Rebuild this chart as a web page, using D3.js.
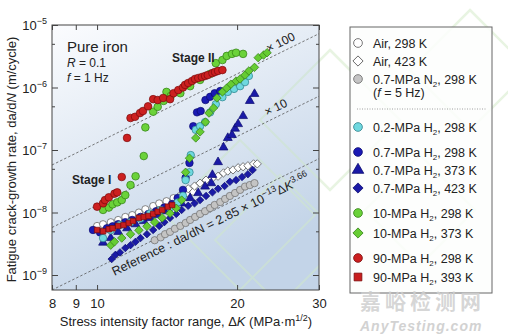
<!DOCTYPE html>
<html><head><meta charset="utf-8">
<script src="https://cdn.jsdelivr.net/npm/d3@7"></script>
<style>body{margin:0;background:#fff}svg{font-family:Arial,"Liberation Sans",sans-serif}</style>
</head><body><svg id="c" width="508" height="334"></svg>
<script>
const xTicks=[8,9,10,20,30];
const yTicks=[1e-9,1e-8,1e-7,1e-6,1e-5];
const yTickExp=["−9","−8","−7","−6","−5"];
const yMinor=[5e-9,5e-8,5e-7,5e-6];
const refCoef=2.85e-13, refExp=3.66, refMult=[1,10,100];

const airRT=[[10.0,6.1e-9],[10.3,6.5e-9],[10.7,7.0e-9],[11.1,7.6e-9],[11.5,8.5e-9],[11.9,9.1e-9],[12.3,1.0e-8],[12.7,1.13e-8],[13.2,1.27e-8],[13.6,1.4e-8],[14.1,1.52e-8],[14.6,1.7e-8],[15.1,1.84e-8],[15.6,2.05e-8],[16.1,2.15e-8]];
const air423=[[15.7,2.4e-8],[16.2,2.65e-8],[16.65,2.95e-8],[17.15,3.3e-8],[17.7,3.55e-8],[18.2,3.8e-8],[18.7,4.3e-8],[19.1,4.6e-8],[19.6,4.8e-8],[20.1,5.2e-8],[20.6,5.4e-8],[21.1,5.6e-8],[21.7,6.0e-8],[22.1,6.0e-8]];
const n2=[[13.3,3.6e-9],[13.7,4.0e-9],[14.0,4.5e-9],[14.35,4.9e-9],[14.7,5.5e-9],[15.1,6.1e-9],[15.5,6.8e-9],[15.85,7.6e-9],[16.25,8.5e-9],[16.65,9.5e-9],[17.07,1.05e-8],[17.5,1.18e-8],[17.9,1.32e-8],[18.4,1.47e-8],[18.85,1.65e-8],[19.3,1.84e-8],[19.8,2.05e-8],[20.3,2.3e-8],[20.8,2.6e-8],[21.3,2.75e-8],[21.8,2.95e-8]];
const h02RT=[[10.3,3.9e-9],[10.7,5.2e-9],[11.2,6.3e-9],[11.8,7e-9],[12.4,8e-9],[13.0,9.6e-9],[13.7,1.1e-8],[14.35,1.2e-8],[14.9,1.45e-8],[15.3,1.85e-8],[15.5,3.3e-8],[15.8,4.4e-8],[15.9,8.3e-8],[16.3,2.1e-7],[16.65,2.4e-7],[17.07,2.8e-7],[17.5,4.0e-7],[18.0,5.4e-7],[18.6,7.0e-7],[19.1,8.5e-7],[19.7,9.5e-7],[20.3,1.05e-6],[20.8,1.22e-6],[21.2,1.53e-6]];
const h07RT=[[9.8,5.25e-9],[10.15,4.8e-9],[10.5,5.6e-9],[10.8,6.0e-9],[11.1,6.5e-9],[11.5,7e-9],[11.9,7.6e-9],[12.4,8.5e-9],[12.9,9.5e-9],[13.4,1.05e-8],[13.95,1.2e-8],[14.5,1.37e-8],[14.9,1.7e-8],[15.3,2.3e-8],[15.5,3.6e-8],[15.8,6.2e-8],[16.1,2.4e-7],[16.4,4.0e-7],[16.7,4.2e-7],[17.1,6.3e-7],[17.5,7.1e-7],[17.9,8.1e-7],[18.4,8.8e-7]];
const h07_373=[[10.3,3.3e-9],[10.7,3.9e-9],[11.1,4.9e-9],[11.6,5.6e-9],[12.1,6.5e-9],[12.6,7.3e-9],[13.0,8.2e-9],[13.5,9.1e-9],[14.1,1.05e-8],[14.6,1.23e-8],[15.2,1.4e-8],[15.85,1.7e-8],[16.5,2.05e-8],[17.07,2.6e-8],[17.6,2.95e-8],[17.7,4.0e-8],[18.2,6.4e-8],[18.7,1.1e-7],[19.1,1.56e-7],[19.5,1.74e-7],[19.8,2.2e-7],[20.1,2.6e-7],[20.6,3.5e-7],[21.3,6.1e-7],[21.8,7.9e-7]];
const h07_423=[[10.75,1.8e-9],[10.95,2.1e-9],[11.2,2.3e-9],[11.5,2.7e-9],[11.8,3.0e-9],[12.1,3.4e-9],[12.4,3.9e-9],[12.8,4.5e-9],[13.2,5.25e-9],[13.6,6.1e-9],[13.95,7e-9],[14.35,8.2e-9],[14.8,9.5e-9],[15.2,1.1e-8],[15.7,1.28e-8],[16.2,1.4e-8],[16.65,1.58e-8],[17.15,1.84e-8],[17.7,2.1e-8],[18.2,2.4e-8],[18.8,2.65e-8],[19.3,3.1e-8],[19.9,3.3e-8],[20.5,3.7e-8],[21.1,4.1e-8],[21.6,4.8e-8]];
const h10RT=[[10.3,1.1e-8],[10.6,1.2e-8],[10.8,1.35e-8],[11.05,1.45e-8],[11.3,1.58e-8],[11.5,1.9e-8],[11.8,2.75e-8],[12.1,3.8e-8],[12.6,8.0e-8],[12.7,2.3e-7],[13.2,4.1e-7],[13.5,4.9e-7],[13.9,6.1e-7],[14.1,8.5e-7],[14.4,7.3e-7],[15.1,8.1e-7],[15.85,1.05e-6],[16.65,1.32e-6],[17.5,1.65e-6],[18.0,2.45e-6],[18.6,2.75e-6],[19.0,3.2e-6],[19.5,3.45e-6],[19.9,3.6e-6],[20.6,3.45e-6]];
const h10_373=[[10.7,3e-9],[10.9,3.4e-9],[11.3,3.9e-9],[11.8,4.5e-9],[12.3,5.2e-9],[12.8,6.0e-9],[13.3,7e-9],[13.8,8.2e-9],[14.35,9.7e-9],[14.8,1.17e-8],[15.2,1.58e-8],[15.5,4.4e-8],[15.8,7.4e-8],[16.3,1.56e-7],[16.65,1.95e-7],[17.1,2.8e-7],[17.4,3.9e-7],[17.8,4.7e-7],[18.1,6.8e-7],[18.6,8.5e-7],[19.0,9.8e-7],[19.4,1.13e-6],[19.9,1.27e-6],[20.3,1.37e-6],[20.8,1.58e-6],[21.2,1.84e-6],[21.8,2.1e-6],[22.2,3e-6],[22.8,3.3e-6],[23.2,3.6e-6]];
const h90RT=[[10.0,1.24e-8],[10.3,1.4e-8],[10.4,1.58e-8],[10.6,1.75e-8],[10.9,2.0e-8],[11.05,2.1e-8],[11.3,3.7e-8],[11.6,1.56e-7],[11.8,3.25e-7],[12.07,3.4e-7],[12.37,3.9e-7],[12.55,4.2e-7],[12.87,5.0e-7],[13.2,6.5e-7],[13.5,6.3e-7],[13.87,6.8e-7],[14.35,6.5e-7],[14.6,8.1e-7],[14.95,9.1e-7],[15.3,1.0e-6],[15.46,1.1e-6],[15.7,1.18e-6],[16.0,1.27e-6],[16.24,1.37e-6],[16.5,1.42e-6],[16.8,1.47e-6],[17.07,1.53e-6],[17.3,1.58e-6],[17.7,1.7e-6],[17.93,1.77e-6],[18.2,1.84e-6],[18.6,1.9e-6]];
const h90_393=[[10.0,5.25e-9],[10.3,5.0e-9],[10.6,5.4e-9],[10.8,5.6e-9],[11.1,6.1e-9],[11.4,6.3e-9],[11.7,6.8e-9],[11.95,7.3e-9],[12.3,8.2e-9],[12.6,8.5e-9],[12.9,8.8e-9],[13.2,9.5e-9],[13.5,1.03e-8],[13.8,1.1e-8],[14.2,1.24e-8],[14.5,1.32e-8]];

const series=[
 {name:"0.7-MPa N2, 298 K",data:n2,shape:"circle",fill:"#c4c4c4",stroke:"#6a6a6a",size:42},
 {name:"Air, 298 K",data:airRT,shape:"circle",fill:"#ffffff",stroke:"#555",size:40},
 {name:"Air, 423 K",data:air423,shape:"diamond",fill:"#ffffff",stroke:"#444",size:34},
 {name:"0.7-MPa H2, 423 K",data:h07_423,shape:"diamond",fill:"#1a1aa6",stroke:"#0c0c70",size:28},
 {name:"0.7-MPa H2, 373 K",data:h07_373,shape:"triangle",fill:"#1a1aa6",stroke:"#0c0c70",size:34},
 {name:"0.7-MPa H2, 298 K",data:h07RT,shape:"circle",fill:"#1a1ab4",stroke:"#0c0c70",size:44},
 {name:"0.2-MPa H2, 298 K",data:h02RT,shape:"circle",fill:"#6fd8df",stroke:"#2b7f8a",size:44},
 {name:"10-MPa H2, 373 K",data:h10_373,shape:"diamond",fill:"#66cc33",stroke:"#2f7d12",size:36},
 {name:"10-MPa H2, 298 K",data:h10RT,shape:"circle",fill:"#6bd23a",stroke:"#2f7d12",size:46},
 {name:"90-MPa H2, 393 K",data:h90_393,shape:"square",fill:"#c81e1e",stroke:"#7a0a0a",size:30},
 {name:"90-MPa H2, 298 K",data:h90RT,shape:"circle",fill:"#cc2020",stroke:"#7a0a0a",size:46}
];
const sqDiamond={draw(ctx,size){const r=Math.sqrt(size/2);ctx.moveTo(0,-r);ctx.lineTo(r,0);ctx.lineTo(0,r);ctx.lineTo(-r,0);ctx.closePath();}};
const symMap={circle:d3.symbolCircle,diamond:sqDiamond,triangle:d3.symbolTriangle,square:d3.symbolSquare};

const svg=d3.select("#c");
const L=52,R=319,T=25,B=290;
const x=d3.scaleLog().domain([8,30]).range([L,R]);
const y=d3.scaleLog().domain([Math.pow(10,-9.24),1e-5]).range([B,T]);

const defs=svg.append("defs");
const gr=defs.append("linearGradient").attr("id","bg").attr("x1","0").attr("y1","0").attr("x2","0.45").attr("y2","1");
gr.append("stop").attr("offset","0").attr("stop-color","#fbfcfe");
gr.append("stop").attr("offset","1").attr("stop-color","#c3d4e8");
defs.append("clipPath").attr("id","clip").append("rect").attr("x",L).attr("y",T).attr("width",R-L).attr("height",B-T);

// faint watermark diamonds on page
const wm=svg.append("g").attr("fill","none").attr("stroke","#e8f4e2").attr("stroke-width",2.5);
[[330,120,70],[470,70,60],[240,215,75],[420,210,55]].forEach(([cx,cy,r])=>{
  wm.append("path").attr("d",`M${cx},${cy-r}L${cx+r},${cy}L${cx},${cy+r}L${cx-r},${cy}Z`);
});

svg.append("rect").attr("x",L).attr("y",T).attr("width",R-L).attr("height",B-T).attr("fill","url(#bg)");
const wm2=svg.append("g").attr("clip-path","url(#clip)").attr("fill","none").attr("stroke","#cfe6cf").attr("stroke-width",2).attr("opacity",0.6);
[[280,240,65],[330,120,70],[240,215,75]].forEach(([cx,cy,r])=>{
  wm2.append("path").attr("d",`M${cx},${cy-r}L${cx+r},${cy}L${cx},${cy+r}L${cx-r},${cy}Z`);
});

// reference lines
const plot=svg.append("g").attr("clip-path","url(#clip)");
const kLine=[8,30];
refMult.forEach(m=>{
  plot.append("path").datum(kLine)
    .attr("d",d3.line().x(k=>x(k)).y(k=>y(m*refCoef*Math.pow(k,refExp))))
    .attr("fill","none").attr("stroke","#555").attr("stroke-width",0.8).attr("stroke-dasharray","2.5,2");
});
const ang=Math.atan2(y(refCoef*Math.pow(30,refExp))-y(refCoef*Math.pow(8,refExp)),x(30)-x(8))*180/Math.PI;

// points
series.forEach(s=>{
  plot.append("g").selectAll("path").data(s.data).join("path")
    .attr("transform",d=>`translate(${x(d[0])},${y(d[1])})`)
    .attr("d",d3.symbol().type(symMap[s.shape]).size(s.size))
    .attr("fill",s.fill).attr("stroke",s.stroke).attr("stroke-width",0.7);
});

// axes
svg.append("rect").attr("x",L).attr("y",T).attr("width",R-L).attr("height",B-T).attr("fill","none").attr("stroke","#444").attr("stroke-width",1);
const ax=(g,axis)=>{g.call(axis);g.select(".domain").remove();g.selectAll("line").attr("stroke","#444");};
svg.append("g").attr("transform",`translate(0,${B})`).call(g=>ax(g,d3.axisBottom(x).tickValues(xTicks).tickSize(-5).tickPadding(9).tickFormat(d3.format("d"))))
  .selectAll("text").attr("font-size",13).attr("fill","#222").attr("font-family","Arial,'Liberation Sans',sans-serif");
svg.append("g").attr("transform",`translate(0,${T})`).call(g=>ax(g,d3.axisTop(x).tickValues(xTicks).tickSize(-5).tickFormat("")));
svg.append("g").attr("transform",`translate(${L},0)`).call(g=>ax(g,d3.axisLeft(y).tickValues(yTicks).tickSize(-6).tickFormat("")));
svg.append("g").attr("transform",`translate(${L},0)`).call(g=>ax(g,d3.axisLeft(y).tickValues(yMinor).tickSize(-3).tickFormat("")));
svg.append("g").attr("transform",`translate(${R},0)`).call(g=>ax(g,d3.axisRight(y).tickValues(yTicks).tickSize(-6).tickFormat("")));
svg.append("g").attr("transform",`translate(${R},0)`).call(g=>ax(g,d3.axisRight(y).tickValues(yMinor).tickSize(-3).tickFormat("")));
yTicks.forEach((v,i)=>{
  const t=svg.append("text").attr("x",L-5).attr("y",y(v)+5).attr("text-anchor","end").attr("font-size",13).attr("fill","#222");
  t.append("tspan").text("10");
  t.append("tspan").attr("dy",-6).attr("font-size",9).text(yTickExp[i]);
});

// axis titles
const xt=svg.append("text").attr("x",186).attr("y",326).attr("text-anchor","middle").attr("font-size",13).attr("fill","#222");
xt.append("tspan").text("Stress intensity factor range, Δ");
xt.append("tspan").attr("font-style","italic").text("K");
xt.append("tspan").text(" (MPa·m");
xt.append("tspan").attr("dy",-5).attr("font-size",9).text("1/2");
xt.append("tspan").attr("dy",5).text(")");
const yt=svg.append("text").attr("transform",`translate(16,${(T+B)/2+2}) rotate(-90)`).attr("text-anchor","middle").attr("font-size",13).attr("fill","#222");
yt.append("tspan").text("Fatigue crack-growth rate, da/d");
yt.append("tspan").attr("font-style","italic").text("N");
yt.append("tspan").text(" (m/cycle)");

// annotations
svg.append("text").attr("x",67).attr("y",52).attr("font-size",15).attr("fill","#222").text("Pure iron");
const rT=svg.append("text").attr("x",67).attr("y",67).attr("font-size",12).attr("fill","#222");
rT.append("tspan").attr("font-style","italic").text("R");rT.append("tspan").text(" = 0.1");
const fT=svg.append("text").attr("x",67).attr("y",82).attr("font-size",12).attr("fill","#222");
fT.append("tspan").attr("font-style","italic").text("f");fT.append("tspan").text(" = 1 Hz");
svg.append("text").attr("x",172).attr("y",62).attr("font-size",12).attr("font-weight","bold").attr("fill","#222").text("Stage II");
svg.append("text").attr("x",72).attr("y",184).attr("font-size",12).attr("font-weight","bold").attr("fill","#222").text("Stage I");

function onLine(k,m){return [x(k),y(m*refCoef*Math.pow(k,refExp))];}
let p=onLine(25.3,100);
svg.append("text").attr("transform",`translate(${p[0]},${p[1]}) rotate(${ang}) translate(0,-5)`).attr("text-anchor","middle").attr("font-size",12).attr("fill","#222").text("× 100");
p=onLine(24.7,10);
svg.append("text").attr("transform",`translate(${p[0]},${p[1]}) rotate(${ang}) translate(0,-5)`).attr("text-anchor","middle").attr("font-size",12).attr("fill","#222").text("× 10");
p=onLine(10.55,1);
const rf=svg.append("text").attr("transform",`translate(${p[0]},${p[1]}) rotate(${ang}) translate(0,15)`).attr("font-size",12.5).attr("fill","#222");
rf.append("tspan").text("Reference : da/dN = 2.85 × 10");
rf.append("tspan").attr("dy",-5).attr("font-size",9).text("−13");
rf.append("tspan").attr("dy",5).text("Δ");
rf.append("tspan").attr("font-style","italic").text("K");
rf.append("tspan").attr("dy",-5).attr("font-size",9).text("3.66");

// legend
const lg=svg.append("g");
lg.append("rect").attr("x",350).attr("y",27).attr("width",142).attr("height",266).attr("fill","#fdfefd").attr("fill-opacity",0.85).attr("stroke","#666").attr("stroke-width",1);
const legendRows=[
 ["Air, 298 K",43,1],["Air, 423 K",61,2],["0.7-MPa N2, 298 K",79,0],
 ["0.2-MPa H2, 298 K",127,6],["0.7-MPa H2, 298 K",152,5],["0.7-MPa H2, 373 K",170,4],["0.7-MPa H2, 423 K",188,3],
 ["10-MPa H2, 298 K",213,8],["10-MPa H2, 373 K",233,7],["90-MPa H2, 298 K",258,10],["90-MPa H2, 393 K",277,9]
];
legendRows.forEach(([lab,yy,si])=>{
  const s=series[si];
  lg.append("path").attr("transform",`translate(358,${yy})`).attr("d",d3.symbol().type(symMap[s.shape]).size(s.shape==="triangle"?58:s.shape==="diamond"?52:60))
    .attr("fill",s.fill).attr("stroke",s.stroke).attr("stroke-width",0.8);
  const t=lg.append("text").attr("x",373).attr("y",yy+4.5).attr("font-size",12.5).attr("fill","#222");
  const m=lab.match(/^(.*?[NH])2(.*)$/);
  if(m){
    t.append("tspan").text(m[1]);
    t.append("tspan").attr("dy",3).attr("font-size",8).text("2");
    t.append("tspan").attr("dy",-3).text(m[2]);
  } else {
    t.append("tspan").text(lab);
  }
});
const f5=lg.append("text").attr("x",373).attr("y",97).attr("font-size",12.5).attr("fill","#222");
f5.append("tspan").text("(");f5.append("tspan").attr("font-style","italic").text("f");f5.append("tspan").text(" = 5 Hz)");
lg.append("line").attr("x1",357).attr("x2",486).attr("y1",109).attr("y2",109).attr("stroke","#888").attr("stroke-width",0.8).attr("stroke-dasharray","1,1.5");

// site watermark
svg.append("text").attr("x",360).attr("y",309).attr("font-family","'Noto Sans CJK SC'").attr("font-size",21).attr("font-weight","bold").attr("fill","#cfcfcf").attr("fill-opacity",0.85).attr("letter-spacing",4).text("嘉峪检测网");
svg.append("text").attr("x",360).attr("y",331).attr("font-size",14).attr("font-style","italic").attr("font-weight","bold").attr("fill","#d2d2d2").attr("letter-spacing",1).text("AnyTesting.com");
</script></body></html>
